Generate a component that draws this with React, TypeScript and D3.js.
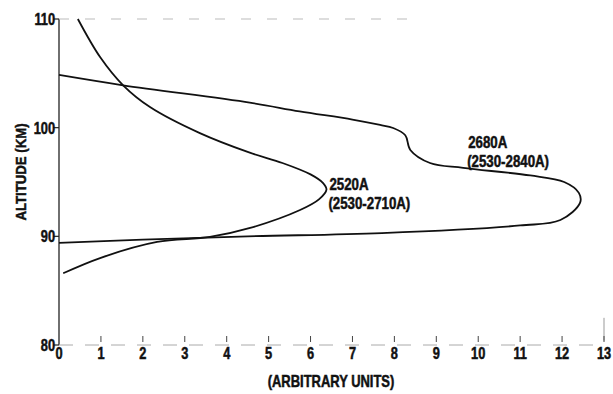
import React from "react";
import * as d3 from "d3";

const W = 613;
const H = 394;

const xTicks = [0, 1, 2, 3, 4, 5, 6, 7, 8, 9, 10, 11, 12, 13];
const yTicks = [80, 90, 100, 110];

// 2520A curve: [arbitrary units, altitude km], traced from top to bottom
const curve2520: [number, number][] = [
  [0.45, 110], [0.98, 106.5], [1.53, 103.9], [2.17, 101.9], [3.36, 99.5],
  [4.55, 97.7], [5.33, 96.75], [6.0, 95.7], [6.3, 94.9], [6.38, 94.3], [6.2, 93.4],
  [5.75, 92.42], [4.56, 90.77], [3.6, 89.94], [2.34, 89.48], [0.98, 88.0], [0.1, 86.6],
];

// 2680A curve
const curve2680: [number, number][] = [
  [0, 104.85], [1.53, 103.9], [4.55, 102.3], [5.74, 101.5], [7.0, 100.75],
  [7.66, 100.25], [7.97, 99.97], [8.26, 99.3], [8.38, 97.95], [8.85, 96.75],
  [9.64, 96.3], [11.24, 95.6], [12.05, 95.0], [12.4, 94.0], [12.43, 93.1],
  [11.96, 91.5], [11.0, 91.0], [7.7, 90.3], [4.5, 90.0], [2.0, 89.7], [0, 89.4],
];

const labels = [
  { x: 6.45, alt: 94.3, lines: ["2520A", "(2530-2710A)"] },
  { x: 9.76, alt: 98.1, lines: ["2680A", "(2530-2840A)"] },
];

const FONT = "'Liberation Sans', Arial, sans-serif";

function CText({
  x,
  y,
  sx,
  size,
  anchor = "start",
  rotate = 0,
  children,
}: {
  x: number;
  y: number;
  sx: number;
  size: number;
  anchor?: string;
  rotate?: number;
  children: React.ReactNode;
}) {
  return (
    <g transform={`translate(${x},${y}) rotate(${rotate}) scale(${sx},1)`}>
      <text
        x={0}
        y={0}
        fontSize={size}
        textAnchor={anchor}
        fill="#111"
        stroke="#111"
        strokeWidth={0.5}
      >
        {children}
      </text>
    </g>
  );
}

export default function App() {
  const x = d3.scaleLinear().domain([0, 13]).range([59, 604]);
  const y = d3.scaleLinear().domain([80, 110]).range([345, 19]);
  const line = d3
    .line<[number, number]>()
    .x((d) => x(d[0]))
    .y((d) => y(d[1]))
    .curve(d3.curveCatmullRom.alpha(0.5));

  return (
    <svg
      width={W}
      height={H}
      style={{ position: "absolute", left: 0, top: 0, background: "#fff" }}
      fontFamily={FONT}
      fontWeight="bold"
    >
      {/* y axis */}
      <line x1={x(0)} x2={x(0)} y1={y(110)} y2={y(80)} stroke="#222" strokeWidth={1.3} />
      {/* x axis faint dashed */}
      <line x1={x(0)} x2={x(13)} y1={y(80)} y2={y(80)} stroke="#aaa" strokeWidth={1} strokeDasharray="14 12" />
      {/* top faint dashed */}
      <line x1={x(0)} x2={x(8.6)} y1={y(110)} y2={y(110)} stroke="#bbb" strokeWidth={1} strokeDasharray="10 16" />
      {/* right faint */}
      <line x1={x(13)} x2={x(13)} y1={y(82.5)} y2={y(80.4)} stroke="#999" strokeWidth={1} />

      {yTicks.map((t) => (
        <g key={t}>
          <line x1={x(0) - 6} x2={x(0)} y1={y(t)} y2={y(t)} stroke="#222" strokeWidth={1.2} />
          <CText x={x(0) - 4} y={y(t) + 6} sx={0.8} size={16} anchor="end">
            {t}
          </CText>
        </g>
      ))}
      {xTicks.map((t) => (
        <g key={t}>
          {t > 0 && (
            <line x1={x(t)} x2={x(t)} y1={y(80) - 9} y2={y(80) - 3} stroke="#444" strokeWidth={1} />
          )}
          <CText x={x(t)} y={y(80) + 14} sx={0.8} size={16} anchor="middle">
            {t}
          </CText>
        </g>
      ))}

      <CText x={26} y={172} sx={0.88} size={15} anchor="middle" rotate={-90}>
        ALTITUDE (KM)
      </CText>
      <CText x={331} y={387} sx={0.81} size={16} anchor="middle">
        (ARBITRARY UNITS)
      </CText>

      <path d={line(curve2520) || ""} fill="none" stroke="#111" strokeWidth={1.8} />
      <path d={line(curve2680) || ""} fill="none" stroke="#111" strokeWidth={1.8} />

      {labels.map((l, i) => (
        <g key={i}>
          <CText x={x(l.x)} y={y(l.alt)} sx={0.83} size={16}>
            {l.lines[0]}
          </CText>
          <CText x={x(l.x) - 1} y={y(l.alt) + 19} sx={0.83} size={16}>
            {l.lines[1]}
          </CText>
        </g>
      ))}
    </svg>
  );
}
